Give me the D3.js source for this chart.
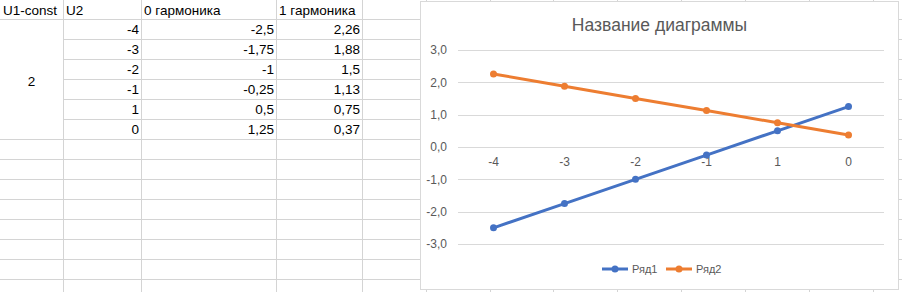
<!DOCTYPE html>
<html>
  <head>
    <style>
      body { margin: 0; background: #fff; }
      svg { display: block; }
    </style>
  </head>

  <body>

    <svg class="surface" width="902" height="292"></svg>

    <script src="https://cdn.jsdelivr.net/npm/d3@7/dist/d3.min.js" charset="utf-8"></script>
    <script>

      // data from the sheet
      const headers = ['U1-const', 'U2', '0 гармоника', '1 гармоника']
      const u1 = 2
      const u2 = ['-4', '-3', '-2', '-1', '1', '0']
      const harm0 = [-2.5, -1.75, -1, -0.25, 0.5, 1.25]
      const harm1 = [2.26, 1.88, 1.5, 1.13, 0.75, 0.37]
      const yTicks = [3, 2, 1, 0, -1, -2, -3]
      const seriesNames = ['Ряд1', 'Ряд2']

      const surface = d3.select('.surface')
      const font = '"Liberation Sans", Arial, sans-serif'
      const fmt = v => String(v).replace('.', ',')

      // --- spreadsheet grid ---
      const colEdges = [0, 63, 141, 276, 362, 426, 490, 553, 617, 681, 745, 809, 873, 902]
      const rowEdges = d3.range(19, 292, 20)
      const grid = surface.append('g').attr('stroke', '#d4d4d4').attr('stroke-width', 1)

      grid.selectAll('line.v').data(colEdges.slice(1, -1)).enter()
        .append('line')
        .attr('x1', d => d + 0.5).attr('x2', d => d + 0.5)
        .attr('y1', 0).attr('y2', 292)

      // rows 2..7 in column A are merged
      grid.selectAll('line.h').data(rowEdges).enter()
        .append('line')
        .attr('x1', (d, i) => (i >= 1 && i <= 5) ? 63 : 0)
        .attr('x2', 902)
        .attr('y1', d => d + 0.5).attr('y2', d => d + 0.5)

      const cells = surface.append('g')
        .attr('font-family', font).attr('font-size', 13.5).attr('fill', '#000')

      const headerX = [3, 66, 144, 279]
      cells.selectAll('text.head').data(headers).enter()
        .append('text')
        .attr('x', (d, i) => headerX[i]).attr('y', 15)
        .text(d => d)

      cells.append('text')
        .attr('x', 31.5).attr('y', 86)
        .attr('text-anchor', 'middle')
        .text(u1)

      const rowY = i => 19 + 20 * i + 15
      const cols = [
        { vals: u2, right: 139 },
        { vals: harm0.map(fmt), right: 274 },
        { vals: harm1.map(fmt), right: 360 }
      ]
      cols.forEach(c => {
        cells.selectAll(null).data(c.vals).enter()
          .append('text')
          .attr('x', c.right).attr('y', (d, i) => rowY(i))
          .attr('text-anchor', 'end')
          .text(d => d)
      })

      // --- chart ---
      const chart = surface.append('g')
      chart.append('rect')
        .attr('x', 420.5).attr('y', 1.5)
        .attr('width', 478).attr('height', 288)
        .attr('fill', '#fff').attr('stroke', '#d9d9d9')

      chart.append('text')
        .attr('x', 659.5).attr('y', 31)
        .attr('text-anchor', 'middle')
        .attr('font-family', font).attr('font-size', 17.5).attr('fill', '#595959')
        .text('Название диаграммы')

      const x = d3.scaleBand().domain(u2).range([458, 884])
      const y = d3.scaleLinear().domain([-3, 3]).range([244, 50])

      chart.append('g')
        .attr('stroke', '#d9d9d9')
        .selectAll('line').data(yTicks).enter()
        .append('line')
        .attr('x1', 458).attr('x2', 884)
        .attr('y1', d => Math.round(y(d)) + 0.5).attr('y2', d => Math.round(y(d)) + 0.5)

      const yAxis = chart.append('g')
        .attr('transform', 'translate(458,0)')
        .call(d3.axisLeft(y).tickValues(yTicks).tickSize(0).tickPadding(11)
          .tickFormat(d => d3.format('.1f')(d).replace('.', ',').replace('−', '-')))
      yAxis.select('.domain').remove()
      yAxis.selectAll('text').attr('font-family', font).attr('font-size', 12).attr('fill', '#595959')

      const xAxis = chart.append('g')
        .attr('transform', `translate(0,${y(0)})`)
        .call(d3.axisBottom(x).tickSize(0).tickPadding(10))
      xAxis.select('.domain').remove()
      xAxis.selectAll('text').attr('font-family', font).attr('font-size', 12).attr('fill', '#595959')

      const series = [
        { name: seriesNames[0], vals: harm0, color: '#4472c4' },
        { name: seriesNames[1], vals: harm1, color: '#ed7d31' }
      ]
      const line = d3.line()
        .x((d, i) => x(u2[i]) + x.bandwidth() / 2)
        .y(d => y(d))

      series.forEach(s => {
        const g = chart.append('g')
        g.append('path')
          .attr('d', line(s.vals))
          .attr('fill', 'none').attr('stroke', s.color)
          .attr('stroke-width', 3).attr('stroke-linecap', 'round')
        g.selectAll('circle').data(s.vals).enter()
          .append('circle')
          .attr('cx', (d, i) => x(u2[i]) + x.bandwidth() / 2)
          .attr('cy', d => y(d))
          .attr('r', 3.5)
          .attr('fill', s.color)
      })

      // legend
      const legend = chart.append('g')
        .selectAll('g').data(series).enter()
        .append('g')
        .attr('transform', (d, i) => `translate(${602 + i * 64},269)`)
      legend.append('line')
        .attr('x1', 0).attr('x2', 26)
        .attr('stroke', d => d.color).attr('stroke-width', 3)
      legend.append('circle')
        .attr('cx', 13).attr('r', 3.5).attr('fill', d => d.color)
      legend.append('text')
        .attr('x', 30).attr('y', 4)
        .attr('font-family', font).attr('font-size', 11).attr('fill', '#595959')
        .text(d => d.name)

    </script>
  </body>

</html>
